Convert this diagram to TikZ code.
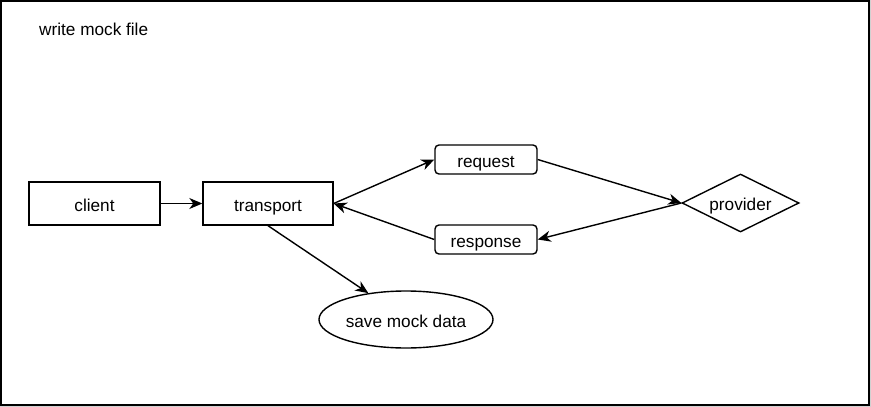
\documentclass[tikz,border=0pt]{standalone}
\usepackage{fontspec}
\setmainfont{Liberation Sans}
\usetikzlibrary{shapes.geometric,arrows.meta}
\begin{document}
\begin{tikzpicture}[x=1pt,y=-1pt,
  every node/.style={font=\fontsize{17.2}{20}\selectfont, inner sep=0pt, text height=16pt, text depth=1pt},
  box/.style={draw, line width=1.4pt, minimum width=131pt, minimum height=43pt},
  rbox/.style={draw, line width=1.4pt, rounded corners=4pt, minimum width=102pt, minimum height=29pt},
  dia/.style={draw, line width=1.4pt, diamond, aspect=2, minimum width=117pt, minimum height=58pt},
  ell/.style={draw, line width=1.4pt, ellipse, inner xsep=0pt, minimum width=174pt, minimum height=57pt},
  conn/.style={line width=1.4pt, -{Stealth[length=13pt,width=11pt,inset=4pt]}}
]
\useasboundingbox (0,0) rectangle (871,407);
\fill[black!18] (0,0) rectangle (871,407);
\draw[line width=1.6pt, fill=white] (0.8,0.8) rectangle (869.2,405.2);
\node[anchor=west] (title) at (39,28.2) {write mock file};
\node[box] (client) at (94.5,203.5) {client};
\node[box, minimum width=130pt] (transport) at (268,203.5) {transport};
\node[rbox] (request) at (486,159.5) {request};
\node[rbox] (response) at (486,239.5) {response};
\node[dia] (provider) at (740.5,203) {provider};
\node[ell] (save) at (406,319.5) {save mock data};
\draw[conn] (client.east) -- (transport.west);
\draw[conn] (transport.east) -- (request.west);
\draw[conn] (response.west) -- (transport.east);
\draw[conn] (request.east) -- (provider.west);
\draw[conn] (provider.west) -- (response.east);
\draw[conn] (transport.south) -- (save.145);
\end{tikzpicture}
\end{document}
